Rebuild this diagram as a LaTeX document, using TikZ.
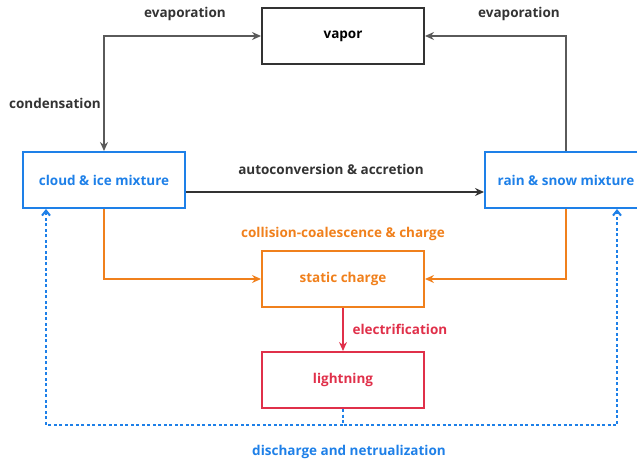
\documentclass[tikz,border=0pt]{standalone}
\usepackage{fontspec}
\setmainfont{Open Sans}
\usetikzlibrary{arrows.meta}
\definecolor{cblue}{HTML}{1E80E8}
\definecolor{corange}{HTML}{F0801C}
\definecolor{cred}{HTML}{E0304A}
\definecolor{cgray}{HTML}{5A5A5A}
\definecolor{ctext}{HTML}{333333}
\tikzset{
  procbox/.style={draw,line width=2pt,minimum width=162pt,minimum height=56pt,font=\bfseries\fontsize{13.5}{16}\selectfont},
  lbl/.style={font=\bfseries\fontsize{13.5}{16}\selectfont},
  flow/.style={line width=2pt,-{Stealth[length=9pt,width=8pt,inset=3pt]}},
}
\begin{document}
\begin{tikzpicture}[x=1pt,y=1pt]
  \useasboundingbox (0,0) rectangle (637,461);
  % boxes
  \node[procbox,draw=ctext,text=black] (vapor) at (343,425) {vapor};
  \node[procbox,draw=cblue,text=cblue] (cloud) at (104,281) {cloud \& ice mixture};
  \node[procbox,draw=cblue,text=cblue] (rain) at (566,281) {rain \& snow mixture};
  \node[procbox,draw=corange,text=corange] (static) at (343,182) {static charge};
  \node[procbox,draw=cred,text=cred] (lightning) at (343,81) {lightning};
  % water cycle
  \draw[flow,cgray,{Stealth[length=9pt,width=8pt,inset=3pt]}-{Stealth[length=9pt,width=8pt,inset=3pt]}] (cloud.north) |- (vapor.west);
  \draw[flow,cgray] (rain.north) |- (vapor.east);
  \draw[flow,ctext] ([yshift=-12pt]cloud.east) -- ([yshift=-12pt]rain.west);
  % charge
  \draw[flow,corange] (cloud.south) |- (static.west);
  \draw[flow,corange] (rain.south) |- (static.east);
  \draw[flow,cred] (static.south) -- (lightning.north);
  % discharge
  \coordinate (dl) at (46,36);
  \coordinate (dr) at (617,36);
  \draw[cblue,line width=2pt,dash pattern=on 3pt off 2.5pt,-{Straight Barb[length=5pt,width=8pt]}] (lightning.south) |- (dl) -- (dl |- cloud.south);
  \draw[cblue,line width=2pt,dash pattern=on 3pt off 2.5pt,-{Straight Barb[length=5pt,width=8pt]}] (lightning.south) |- (dr) -- (dr |- rain.south);
  % labels
  \node[lbl,text=ctext] (evapl) at (185,447) {evaporation};
  \node[lbl,text=ctext] (evapr) at (519,447) {evaporation};
  \node[lbl,text=ctext] (cond) at (55,358) {condensation};
  \node[lbl,text=ctext] (auto) at (331,292) {autoconversion \& accretion};
  \node[lbl,text=corange] (coll) at (343,227) {collision-coalescence \& charge};
  \node[lbl,text=cred,anchor=west] (elec) at (349,132) {electrification};
  \node[lbl,text=cblue] (disch) at (349,9) {discharge and netrualization};
\end{tikzpicture}
\end{document}
